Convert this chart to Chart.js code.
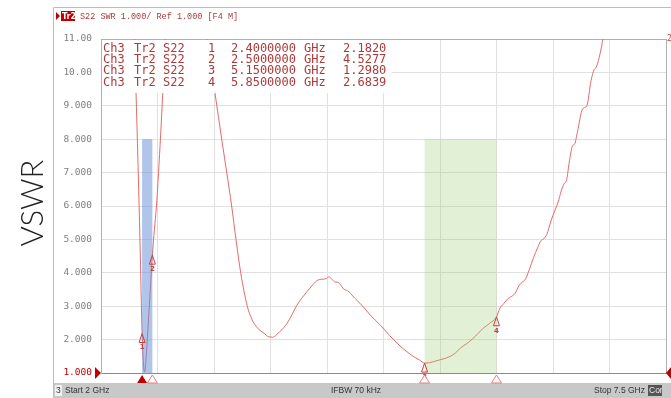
<!DOCTYPE html>
<html>
<head>
<meta charset="utf-8">
<script src="https://cdn.jsdelivr.net/npm/chart.js@4.4.0/dist/chart.umd.min.js"></script>
<style>
  html, body { margin: 0; padding: 0; background: #fff; }
  canvas { display: block; }
</style>
</head>
<body>
<canvas id="swrChart" width="671" height="398"></canvas>
<script>
// S22 trace (GHz / VSWR); values > 11 are off-scale
const freqs = [
  2.30, 2.34, 2.36, 2.38, 2.40, 2.415, 2.425, 2.44, 2.46, 2.48, 2.50, 2.52, 2.54, 2.56, 2.58, 2.60, 2.64,
  2.75, 2.85, 3.00, 3.05, 3.11, 3.175, 3.224, 3.272, 3.314, 3.36, 3.424, 3.467, 3.51, 3.55, 3.596, 3.62, 3.645,
  3.67, 3.70, 3.74, 3.78, 3.81, 3.86, 3.905, 3.95, 4.00, 4.05, 4.10, 4.13, 4.16, 4.19, 4.22,
  4.25, 4.28, 4.30, 4.33, 4.36, 4.40, 4.43, 4.47, 4.52, 4.57, 4.62, 4.67, 4.72, 4.77, 4.81, 4.86, 4.91, 4.96, 5.01, 5.05, 5.10,
  5.15, 5.20, 5.27, 5.33, 5.40, 5.45, 5.50, 5.56, 5.62, 5.67, 5.72, 5.78, 5.85,
  5.88, 5.92, 5.96, 6.00, 6.03, 6.07, 6.10, 6.13, 6.17, 6.21, 6.25, 6.28, 6.31, 6.34, 6.38, 6.42, 6.45, 6.48,
  6.51, 6.53, 6.56, 6.59, 6.61, 6.64, 6.68, 6.71, 6.73, 6.77, 6.80, 6.82, 6.85, 6.89, 6.95, 7.10, 7.50
];
const vswr = [
  13.8, 9.5, 7.3, 4.9, 2.18, 1.2, 1.03, 1.5, 2.5, 3.5, 4.53, 5.3, 6.0, 7.0, 8.1, 9.3, 11.8,
  15.0, 16.0, 11.8, 10.6, 9.37, 8.0, 7.0, 6.0, 5.0, 4.0, 3.0, 2.62, 2.40, 2.27, 2.17, 2.10, 2.08,
  2.07, 2.12, 2.24, 2.36, 2.48, 2.75, 3.02, 3.22, 3.42, 3.60, 3.76, 3.80, 3.81, 3.82, 3.88,
  3.80, 3.72, 3.72, 3.65, 3.52, 3.46, 3.38, 3.24, 3.09, 2.92, 2.74, 2.58, 2.43, 2.26, 2.12, 1.96, 1.81, 1.68, 1.56, 1.48, 1.39,
  1.298, 1.31, 1.37, 1.42, 1.50, 1.60, 1.75, 1.88, 2.03, 2.18, 2.34, 2.48, 2.68,
  2.92, 3.08, 3.22, 3.30, 3.38, 3.62, 3.72, 3.80, 4.10, 4.45, 4.75, 4.95, 5.02, 5.15, 5.55, 5.88, 6.12, 6.45,
  6.68, 6.75, 7.35, 7.80, 7.85, 8.25, 8.85, 8.95, 9.00, 9.75, 10.08, 10.15, 10.45, 11.05, 12.0, 14.0, 19.0
];

// markers
const markerNums = [1, 2, 3, 4];
const markerFreqs = [2.4, 2.5, 5.15, 5.85];
const markerVswr = [2.1820, 4.5277, 1.2980, 2.6839];

// shaded bands (GHz) up to VSWR 8
const bandStarts = [2.4, 5.15];
const bandEnds = [2.5, 5.85];
const bandTop = 8;
const bandColors = ['rgba(100, 140, 215, 0.5)', 'rgba(160, 205, 120, 0.3)'];

const xGridTicks = [2, 2.55, 3.1, 3.65, 4.2, 4.75, 5.3, 5.85, 6.4, 6.95, 7.5];
const yTickLabels = ['1.000', '2.000', '3.000', '4.000', '5.000', '6.000', '7.000', '8.000', '9.000', '10.00', '11.00'];

const RED = '#c00000';
const TRACE = '#e66a6a';
const TEXT_RED = '#ad3a3a';

function tri(ctx, x, y, w, h, up) {
    ctx.beginPath();
    if (up) {
        ctx.moveTo(x, y); ctx.lineTo(x - w / 2, y + h); ctx.lineTo(x + w / 2, y + h);
    } else {
        ctx.moveTo(x, y); ctx.lineTo(x - w / 2, y - h); ctx.lineTo(x + w / 2, y - h);
    }
    ctx.closePath();
}

// everything the VNA draws around / over the trace
const vnaOverlay = {
    id: 'vnaOverlay',
    beforeDraw(chart) {
        const ctx = chart.ctx;
        ctx.save();
        ctx.fillStyle = '#fff';
        ctx.fillRect(0, 0, chart.width, chart.height);
        // screenshot frame
        ctx.strokeStyle = '#bdbdbd';
        ctx.lineWidth = 1;
        ctx.beginPath();
        ctx.moveTo(53.5, 398); ctx.lineTo(53.5, 7.5); ctx.lineTo(671, 7.5);
        ctx.stroke();
        // header
        ctx.fillStyle = RED;
        ctx.beginPath(); ctx.moveTo(56, 12); ctx.lineTo(60, 16); ctx.lineTo(56, 20); ctx.fill();
        ctx.fillRect(61, 11, 14, 10);
        ctx.font = 'bold 8px "DejaVu Sans"';
        ctx.fillStyle = '#fff';
        ctx.textBaseline = 'middle';
        ctx.fillText('Tr2', 62, 16.5);
        ctx.font = '8.5px "Liberation Mono"';
        ctx.fillStyle = TEXT_RED;
        ctx.fillText('S22 SWR 1.000/ Ref 1.000 [F4 M]', 80, 17);
        // status bar
        ctx.fillStyle = '#c8c8c8';
        ctx.fillRect(54, 383, 617, 15);
        ctx.fillStyle = '#f2f2f2';
        ctx.fillRect(55, 385, 7, 11);
        ctx.fillStyle = '#555';
        ctx.fillRect(648, 385, 14, 11);
        ctx.font = '8.5px "Liberation Sans"';
        ctx.fillStyle = '#333';
        ctx.fillText('3', 56, 391);
        ctx.fillText('Start 2 GHz', 65, 391);
        ctx.fillText('IFBW 70 kHz', 331, 391);
        ctx.textAlign = 'right';
        ctx.fillText('Stop 7.5 GHz', 645, 391);
        ctx.textAlign = 'left';
        ctx.fillStyle = '#eee';
        ctx.fillText('Cor', 649, 391);
        // VSWR axis caption
        ctx.translate(43, 203);
        ctx.rotate(-Math.PI / 2);
        ctx.font = '300 31px Lato, "Open Sans", sans-serif';
        ctx.fillStyle = '#222';
        ctx.textAlign = 'center';
        ctx.textBaseline = 'alphabetic';
        ctx.fillText('VSWR', 0, 0);
        ctx.restore();
    },
    afterDatasetsDraw(chart) {
        const ctx = chart.ctx;
        const xs = chart.scales.x, ys = chart.scales.y;
        const area = chart.chartArea;
        ctx.save();
        // bands on top of the trace (tints it)
        bandStarts.forEach((s, i) => {
            const x0 = xs.getPixelForValue(s), x1 = xs.getPixelForValue(bandEnds[i]);
            const y0 = ys.getPixelForValue(bandTop), y1 = ys.getPixelForValue(1);
            ctx.fillStyle = bandColors[i];
            ctx.fillRect(x0, y0, x1 - x0, y1 - y0);
        });
        // marker table
        ctx.fillStyle = '#fff';
        ctx.fillRect(area.left + 1, area.top + 1, 290, 53);
        ctx.font = '12px "DejaVu Sans Mono"';
        ctx.fillStyle = TEXT_RED;
        ctx.textBaseline = 'middle';
        const cols = [103, 134, 163, 208, 231, 304, 343];
        markerNums.forEach((n, i) => {
            const y = 48.5 + i * 11.3;
            const cells = ['Ch3', 'Tr2', 'S22', String(n), markerFreqs[i].toFixed(7), 'GHz', markerVswr[i].toFixed(4)];
            cells.forEach((c, j) => ctx.fillText(c, cols[j], y));
        });
        // markers on the trace
        ctx.strokeStyle = '#c84040';
        ctx.lineWidth = 1;
        ctx.font = 'bold 7px "DejaVu Sans"';
        ctx.textAlign = 'center';
        markerFreqs.forEach((f, i) => {
            const px = xs.getPixelForValue(f), py = ys.getPixelForValue(markerVswr[i]);
            tri(ctx, px, py, 6, 9, true);
            ctx.stroke();
            ctx.fillStyle = '#c84040';
            ctx.fillText(String(markerNums[i]), px, py + 14);
        });
        // markers below the axis
        markerFreqs.forEach((f, i) => {
            const px = xs.getPixelForValue(f);
            tri(ctx, px, area.bottom + 2, 10, 8, true);
            if (i === 0) {
                ctx.fillStyle = RED;
                ctx.fill();
            } else {
                ctx.fillStyle = '#fff';
                ctx.fill();
                ctx.strokeStyle = '#e08080';
                ctx.stroke();
            }
        });
        // reference level arrows
        const yRef = ys.getPixelForValue(1);
        ctx.fillStyle = RED;
        ctx.beginPath();
        ctx.moveTo(area.left - 6, yRef - 6); ctx.lineTo(area.left, yRef); ctx.lineTo(area.left - 6, yRef + 6);
        ctx.fill();
        ctx.beginPath();
        ctx.moveTo(671, yRef - 6); ctx.lineTo(area.right, yRef); ctx.lineTo(671, yRef + 6);
        ctx.fill();
        ctx.font = '8px "DejaVu Sans Mono"';
        ctx.textAlign = 'left';
        ctx.fillStyle = '#d04040';
        ctx.fillText('2', area.right + 1, area.top);
        ctx.restore();
    }
};

const ctx = document.getElementById('swrChart').getContext('2d');
new Chart(ctx, {
    type: 'line',
    data: {
        datasets: [{
            data: freqs.map((f, i) => ({ x: f, y: vswr[i] })),
            borderColor: TRACE,
            borderWidth: 1,
            pointRadius: 0,
            cubicInterpolationMode: 'monotone', // smoother sweep, no overshoot
            fill: false
        }]
    },
    options: {
        responsive: false,
        animation: false,
        devicePixelRatio: 1,
        layout: { padding: { left: 53, right: 5, top: 39, bottom: 25 } },
        plugins: { legend: { display: false }, tooltip: { enabled: false } },
        scales: {
            x: {
                type: 'linear',
                min: 2,
                max: 7.5,
                afterBuildTicks: (s) => { s.ticks = xGridTicks.map(v => ({ value: v })); },
                afterFit: (s) => { s.height = 0; },
                ticks: { display: false },
                grid: {
                    drawTicks: false,
                    color: (c) => (c.tick && c.tick.value === 7.5 ? '#b0b0b0' : '#e0e0e0')
                },
                border: { color: '#8a8a8a' }
            },
            y: {
                min: 1,
                max: 11,
                afterFit: (s) => { s.width = 48; },
                ticks: {
                    stepSize: 1,
                    padding: 9,
                    font: { family: '"DejaVu Sans Mono"', size: 9.5 },
                    color: (c) => (c.tick.value === 1 ? RED : '#808080'),
                    callback: (v) => yTickLabels[v - 1]
                },
                grid: {
                    drawTicks: false,
                    color: (c) => (c.tick && c.tick.value === 11 ? '#b0b0b0' : '#e0e0e0')
                },
                border: { color: '#b0b0b0' }
            }
        }
    },
    plugins: [vnaOverlay]
});
</script>
</body>
</html>
